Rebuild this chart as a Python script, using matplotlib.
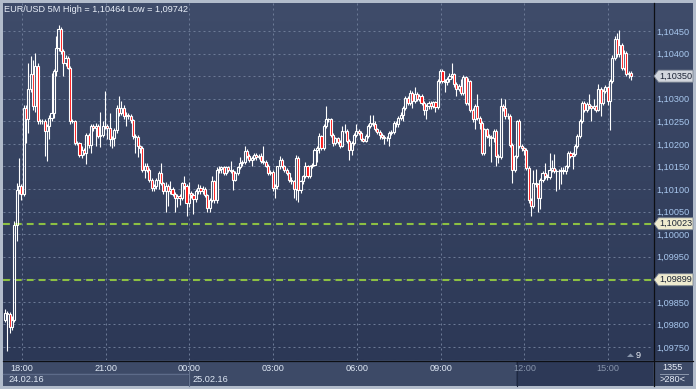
import numpy as np
import matplotlib
matplotlib.use('Agg')
import matplotlib.pyplot as plt
from matplotlib.patches import Rectangle, Polygon
from matplotlib.colors import LinearSegmentedColormap
from matplotlib.transforms import blended_transform_factory
from matplotlib.ticker import FixedLocator, FuncFormatter

plt.rcParams['font.family'] = ['Liberation Sans', 'DejaVu Sans']

# ---------------- data (prices in 1e-5 units above 1.09000) ----------------
BASE = 1.09
first_open_pts = 810
close_pts = [
    825, 822, 795, 810, 1021, 1098, 1106, 1090, 1280, 1254,
    1321, 1354, 1283, 1372, 1250, 1250, 1250, 1228, 1239, 1258,
    1269, 1361, 1413, 1454, 1406, 1380, 1390, 1369, 1250, 1250,
    1202, 1202, 1176, 1187, 1180, 1220, 1198, 1239, 1235, 1240,
    1217, 1220, 1240, 1239, 1236, 1210, 1212, 1230, 1280, 1269,
    1280, 1261, 1265, 1262, 1252, 1217, 1215, 1195, 1190, 1143,
    1152, 1143, 1121, 1103, 1106, 1120, 1136, 1113, 1095, 1106,
    1095, 1100, 1090, 1080, 1085, 1080, 1113, 1106, 1069, 1091,
    1087, 1078, 1095, 1103, 1095, 1100, 1087, 1058, 1076, 1117,
    1076, 1142, 1145, 1148, 1136, 1148, 1143, 1140, 1121, 1136,
    1148, 1158, 1160, 1184, 1173, 1165, 1168, 1176, 1170, 1172,
    1162, 1160, 1152, 1136, 1138, 1102, 1106, 1150, 1165, 1150,
    1143, 1135, 1121, 1117, 1100, 1168, 1097, 1117, 1128, 1150,
    1128, 1150, 1153, 1187, 1190, 1217, 1191, 1239, 1254, 1254,
    1220, 1202, 1212, 1205, 1195, 1228, 1228, 1206, 1187, 1202,
    1220, 1228, 1225, 1210, 1207, 1217, 1239, 1246, 1245, 1232,
    1226, 1220, 1215, 1213, 1212, 1224, 1226, 1246, 1243, 1258,
    1265, 1280, 1302, 1291, 1313, 1295, 1310, 1300, 1306, 1291,
    1276, 1283, 1290, 1283, 1292, 1282, 1339, 1361, 1339, 1336,
    1343, 1351, 1354, 1332, 1321, 1328, 1313, 1347, 1291, 1339,
    1276, 1254, 1283, 1258, 1247, 1180, 1232, 1217, 1215, 1212,
    1228, 1173, 1170, 1283, 1280, 1261, 1262, 1198, 1143, 1172,
    1250, 1195, 1190, 1187, 1147, 1076, 1062, 1113, 1110, 1080,
    1121, 1136, 1128, 1126, 1143, 1147, 1140, 1139, 1140, 1143,
    1139, 1150, 1180, 1173, 1178, 1195, 1217, 1250, 1291, 1276,
    1288, 1283, 1280, 1283, 1276, 1321, 1291, 1317, 1325, 1295,
    1339, 1391, 1432, 1398, 1420, 1369, 1402, 1355, 1358, 1350,
]
high_pts = [
    835, 830, 828, 818, 1030, 1113, 1168, 1112, 1285, 1286,
    1380, 1395, 1385, 1402, 1380, 1256, 1255, 1254, 1245, 1265,
    1358, 1365, 1440, 1464, 1458, 1410, 1396, 1395, 1372, 1254,
    1252, 1206, 1205, 1195, 1190, 1225, 1224, 1245, 1244, 1246,
    1244, 1270, 1250, 1317, 1244, 1269, 1218, 1235, 1285, 1306,
    1295, 1285, 1270, 1268, 1266, 1255, 1222, 1220, 1198, 1195,
    1158, 1158, 1147, 1125, 1110, 1124, 1140, 1158, 1116, 1116,
    1110, 1118, 1104, 1094, 1090, 1090, 1116, 1128, 1110, 1115,
    1095, 1092, 1100, 1110, 1108, 1106, 1104, 1090, 1080, 1128,
    1120, 1148, 1152, 1152, 1152, 1152, 1152, 1162, 1144, 1140,
    1152, 1170, 1165, 1195, 1188, 1178, 1172, 1180, 1180, 1177,
    1180, 1195, 1164, 1156, 1142, 1142, 1110, 1152, 1172, 1168,
    1154, 1146, 1138, 1126, 1120, 1175, 1172, 1120, 1132, 1160,
    1154, 1154, 1158, 1190, 1195, 1225, 1220, 1244, 1283, 1258,
    1258, 1224, 1216, 1215, 1208, 1240, 1245, 1232, 1210, 1206,
    1224, 1245, 1232, 1228, 1214, 1221, 1243, 1265, 1265, 1250,
    1236, 1230, 1224, 1219, 1217, 1228, 1230, 1250, 1250, 1262,
    1270, 1284, 1306, 1306, 1320, 1317, 1325, 1314, 1311, 1310,
    1295, 1288, 1294, 1294, 1296, 1296, 1344, 1365, 1365, 1343,
    1347, 1356, 1380, 1358, 1336, 1332, 1343, 1352, 1350, 1345,
    1342, 1280, 1288, 1310, 1262, 1250, 1236, 1236, 1221, 1219,
    1232, 1232, 1177, 1302, 1288, 1300, 1268, 1266, 1202, 1176,
    1252, 1254, 1200, 1194, 1190, 1150, 1080, 1143, 1145, 1114,
    1125, 1140, 1158, 1133, 1180, 1165, 1177, 1145, 1145, 1148,
    1148, 1154, 1185, 1184, 1182, 1199, 1221, 1254, 1296, 1295,
    1292, 1310, 1287, 1300, 1287, 1332, 1325, 1321, 1330, 1329,
    1343, 1396, 1440, 1445, 1453, 1424, 1407, 1406, 1362, 1362,
]
low_pts = [
    805, 742, 780, 788, 805, 985, 1090, 1076, 1085, 1202,
    1224, 1315, 1276, 1270, 1245, 1244, 1243, 1173, 1162, 1210,
    1250, 1258, 1350, 1405, 1400, 1350, 1372, 1365, 1245, 1246,
    1198, 1198, 1170, 1168, 1175, 1155, 1190, 1180, 1228, 1195,
    1212, 1192, 1215, 1232, 1210, 1195, 1190, 1195, 1225, 1262,
    1265, 1255, 1240, 1255, 1246, 1210, 1180, 1170, 1180, 1138,
    1125, 1138, 1115, 1095, 1095, 1100, 1100, 1108, 1090, 1050,
    1062, 1090, 1085, 1050, 1060, 1065, 1075, 1100, 1040, 1060,
    1080, 1045, 1072, 1090, 1090, 1090, 1082, 1050, 1050, 1072,
    1070, 1070, 1136, 1135, 1130, 1132, 1138, 1135, 1098, 1118,
    1132, 1145, 1152, 1155, 1168, 1160, 1150, 1164, 1165, 1166,
    1158, 1155, 1148, 1132, 1130, 1095, 1080, 1100, 1145, 1146,
    1138, 1130, 1116, 1112, 1080, 1075, 1072, 1092, 1112, 1124,
    1124, 1124, 1146, 1150, 1160, 1180, 1186, 1187, 1235, 1248,
    1215, 1195, 1198, 1200, 1190, 1192, 1224, 1202, 1165, 1175,
    1198, 1216, 1220, 1206, 1203, 1203, 1213, 1235, 1240, 1228,
    1222, 1210, 1211, 1200, 1207, 1195, 1220, 1222, 1238, 1238,
    1252, 1250, 1276, 1286, 1287, 1280, 1290, 1295, 1296, 1286,
    1265, 1255, 1278, 1278, 1279, 1270, 1278, 1334, 1334, 1315,
    1330, 1338, 1346, 1326, 1305, 1316, 1308, 1308, 1286, 1286,
    1270, 1248, 1232, 1252, 1232, 1175, 1176, 1212, 1195, 1160,
    1205, 1150, 1158, 1166, 1272, 1256, 1255, 1193, 1113, 1138,
    1168, 1190, 1185, 1175, 1142, 1070, 1040, 1058, 1105, 1050,
    1055, 1116, 1123, 1120, 1122, 1138, 1135, 1095, 1100, 1110,
    1134, 1134, 1146, 1168, 1145, 1172, 1190, 1212, 1246, 1270,
    1270, 1278, 1250, 1275, 1270, 1272, 1262, 1287, 1312, 1285,
    1230, 1335, 1386, 1393, 1393, 1364, 1364, 1350, 1345, 1342,
]
time_labels = ['18:00', '21:00', '00:00', '03:00', '06:00', '09:00', '12:00', '15:00']
time_tick_bars = [7.2, 43.2, 79.2, 115.2, 151.2, 187.2, 223.2, 259.2]
date_labels = ['24.02.16', '25.02.16']
level_lines = [1.10023, 1.09899]
price_ticks = [1.09750, 1.09800, 1.09850, 1.09900, 1.09950, 1.10000, 1.10050,
               1.10100, 1.10150, 1.10200, 1.10250, 1.10300, 1.10350, 1.10400, 1.10450]
title_text = 'EUR/USD 5M'

closes = BASE + np.array(close_pts) / 1e5
highs = BASE + np.array(high_pts) / 1e5
lows = BASE + np.array(low_pts) / 1e5
opens = np.concatenate([[BASE + first_open_pts / 1e5], closes[:-1]])
n = len(closes)

def fmt(v):
    return f'{v:.5f}'.replace('.', ',')

# ---------------- figure ----------------
W, H = 696, 389
fig = plt.figure(figsize=(W / 100, H / 100), dpi=100, facecolor='#b2bccb')
bg = fig.add_axes([0, 0, 1, 1])
bg.set_xlim(0, W)
bg.set_ylim(H, 0)
bg.axis('off')

grad = np.linspace(0, 1, 256).reshape(-1, 1)
cmap = LinearSegmentedColormap.from_list('bgc', ['#3f4c6a', '#2c3856'])
bg.imshow(grad, extent=(3, 693, 360, 3), aspect='auto', cmap=cmap, zorder=0)

# bottom time strip
bg.add_patch(Rectangle((3, 360), 690, 26, fc='#3d4a67', ec='none', zorder=1))
bg.add_patch(Rectangle((3, 373), 185, 13, fc='#44516e', ec='none', zorder=1))
bg.plot([3, 188], [373.5, 373.5], color='#5d6b89', lw=0.8, zorder=2)
bg.plot([188.5, 188.5], [361, 386], color='#66748f', lw=0.8, zorder=2)
bg.add_patch(Rectangle((516, 361), 137, 25, fc='#2d3957', ec='none', zorder=1))
bg.plot([516.5, 516.5], [361, 386], color='#1e2840', lw=0.8, zorder=2)
# separators
bg.plot([653.5, 653.5], [3, 386], color='#0d0f14', lw=0.9, zorder=3)
bg.plot([3, 693], [360.5, 360.5], color='#0d0f14', lw=0.9, zorder=3)

# ---------------- main price axes ----------------
ax = fig.add_axes([3 / W, 29 / H, 650 / W, 357 / H])
ax.patch.set_alpha(0)
for s in ax.spines.values():
    s.set_visible(False)
px_per_bar = 2.327
ax.set_xlim((3 - 5) / px_per_bar, (653 - 5) / px_per_bar)
ax.set_ylim(1.097212, 1.105120)

# price tags (current price + two level lines) hide the scale labels beneath them
tag_prices = [closes[-1], level_lines[0], level_lines[1]]
tag_fcs = ['#d2d6dd', '#efebcf', '#efebcf']
half = 6.0 / 45143

def scale_label(v, p):
    if any(abs(v - t) < 1.3 * half for t in tag_prices):
        return ''
    return fmt(v)

ax.yaxis.tick_right()
ax.yaxis.set_major_locator(FixedLocator(price_ticks))
ax.yaxis.set_major_formatter(FuncFormatter(scale_label))
ax.tick_params(axis='y', length=0, pad=2.4, labelsize=6.6, labelcolor='#a9c8ef')
ax.set_xticks(time_tick_bars)
ax.set_xticklabels(time_labels)
ax.tick_params(axis='x', length=0, pad=2.6, labelsize=6.6, labelcolor='#dfe8f5')
for lbl in ax.get_xticklabels()[6:]:
    lbl.set_color('#8794ab')
ax.set_axisbelow(True)
ax.grid(True, color='#6c7a96', lw=0.72, linestyle=(0, (2, 3)))

for lv in level_lines:
    ax.axhline(lv, color='#8cc043', lw=1.5, linestyle=(0, (3.3, 2.4)), zorder=1)

x = np.arange(n)
up = closes >= opens
btop = np.maximum(opens, closes)
bbot = np.minimum(opens, closes)
ax.vlines(x, btop, highs, color='white', lw=0.8, zorder=3)
ax.vlines(x, lows, bbot, color='white', lw=0.8, zorder=3)
ax.bar(x, btop - bbot, bottom=bbot, width=0.9,
       color=['none' if u else '#ff1010' for u in up],
       edgecolor='white', linewidth=0.8, zorder=4)

trans = blended_transform_factory(bg.transData, ax.transData)
for price, fc in zip(tag_prices, tag_fcs):
    pts = [(654, price), (658.5, price + half), (693, price + half),
           (693, price - half), (658.5, price - half)]
    bg.add_patch(Polygon(pts, closed=True, fc=fc, ec='#7d8694', lw=0.6,
                         transform=trans, zorder=6))
    bg.text(659, price, fmt(price), transform=trans, ha='left', va='center',
            fontsize=6.6, color='#1c2436', zorder=7)

# texts
bg.text(4, 9, f'{title_text} High = {fmt(highs.max())} Low = {fmt(lows.min())}',
        ha='left', va='center', fontsize=6.6, color='#e8eef8', zorder=5)
bg.text(8, 380, date_labels[0], ha='left', va='center', fontsize=6.6, color='#dfe8f5', zorder=5)
bg.text(192, 380, date_labels[1], ha='left', va='center', fontsize=6.6, color='#dfe8f5', zorder=5)
bg.text(673, 367, '1355', ha='center', va='center', fontsize=6.6, color='#e8eef8', zorder=5)
bg.plot([660, 688], [374, 374], color='#8c98ad', lw=0.7, zorder=5)
bg.text(673, 380, '>280<', ha='center', va='center', fontsize=6.6, color='#e8eef8', zorder=5)
bg.add_patch(Polygon([(627, 357), (630.5, 353.5), (634, 357)], closed=True,
                     fc='#8996ad', ec='none', zorder=5))
bg.text(638.5, 355, '9', ha='center', va='center', fontsize=6.6, color='#eef2f8', zorder=5)

fig.savefig('out.png', dpi=100, facecolor=fig.get_facecolor())
